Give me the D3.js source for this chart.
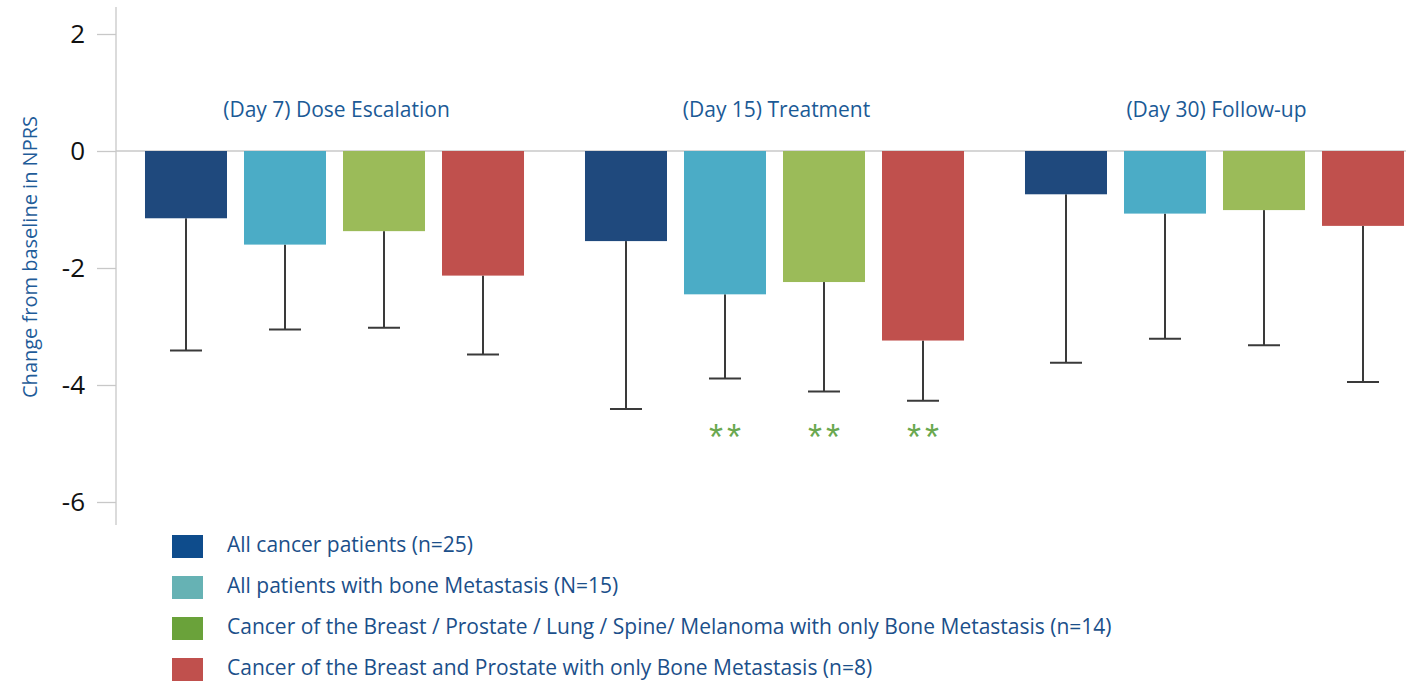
<!DOCTYPE html>
<html>
<head>
<meta charset="utf-8">
<script src="https://cdn.jsdelivr.net/npm/d3@7"></script>
<style>
  html, body { margin: 0; padding: 0; background: #fff; overflow: hidden; }
  svg { display: block; }
</style>
</head>
<body>
<svg id="chart" width="1406" height="681"></svg>
<script>
// Study phases (groups) and patient cohorts (series)
const phases = ["(Day 7) Dose Escalation", "(Day 15) Treatment", "(Day 30) Follow-up"];
const cohorts = [
  "All cancer patients (n=25)",
  "All patients with bone Metastasis (N=15)",
  "Cancer of the Breast / Prostate / Lung / Spine/ Melanoma with only Bone Metastasis (n=14)",
  "Cancer of the Breast and Prostate with only Bone Metastasis (n=8)"
];
// Mean change in NPRS per cohort, one value per phase
const allPatients   = [-1.15, -1.54, -0.74];
const boneMets      = [-1.60, -2.45, -1.07];
const mixedBoneOnly = [-1.37, -2.24, -1.01];
const breastProst   = [-2.13, -3.24, -1.28];
// Lower end of the error bars
const allPatientsLow   = [-3.41, -4.41, -3.62];
const boneMetsLow      = [-3.05, -3.89, -3.21];
const mixedBoneOnlyLow = [-3.02, -4.11, -3.32];
const breastProstLow   = [-3.48, -4.27, -3.95];
// Significance markers (phase, cohort index)
const significance = [
  { phase: 1, cohort: 1, text: "**" },
  { phase: 1, cohort: 2, text: "**" },
  { phase: 1, cohort: 3, text: "**" }
];
const yTicks = [2, 0, -2, -4, -6];

const barColors = ["#1F497D", "#4BACC6", "#9BBB59", "#C0504D"];
const legendColors = ["#0E4C8C", "#66B2B4", "#6AA23A", "#C0504D"];
const seriesValues = [allPatients, boneMets, mixedBoneOnly, breastProst];
const seriesLows = [allPatientsLow, boneMetsLow, mixedBoneOnlyLow, breastProstLow];

const font = "'Open Sans', 'Liberation Sans', sans-serif";
const svg = d3.select("#chart");

const y = d3.scaleLinear().domain([-6, 2]).range([502, 34]);
const x0 = d3.scaleBand().domain(d3.range(phases.length)).range([114.5, 1434.5]).paddingInner(0).paddingOuter(0);
const x1 = d3.scaleBand().domain(d3.range(cohorts.length)).range([0, x0.bandwidth()]).paddingInner(0.1717).paddingOuter(0.308);

// Y axis
const axisX = 116;
const yAxis = d3.axisLeft(y).tickValues(yTicks).tickSize(19).tickPadding(12).tickFormat(d => String(d));
const gAxis = svg.append("g").attr("transform", `translate(${axisX},0)`).call(yAxis);
gAxis.select(".domain").remove();
gAxis.selectAll(".tick line").attr("stroke", "#C8C8C8").attr("stroke-width", 1.3);
gAxis.selectAll(".tick text")
  .attr("font-family", font)
  .attr("font-size", 26).attr("fill", "#111");
svg.append("line")
  .attr("x1", axisX).attr("x2", axisX).attr("y1", 7).attr("y2", 525)
  .attr("stroke", "#C8C8C8").attr("stroke-width", 1.3);

// Zero baseline across the plot
svg.append("line")
  .attr("x1", axisX).attr("x2", 1406).attr("y1", y(0)).attr("y2", y(0))
  .attr("stroke", "#C8C8C8").attr("stroke-width", 1.3);

// Y axis title
svg.append("text")
  .attr("transform", `translate(37,257) rotate(-90)`)
  .attr("text-anchor", "middle")
  .attr("font-family", font)
  .attr("font-size", 20).attr("fill", "#1F5C99")
  .text("Change from baseline in NPRS");

// Bars and error bars
const groups = svg.selectAll("g.phase").data(phases).join("g")
  .attr("class", "phase")
  .attr("transform", (d, i) => `translate(${x0(i)},0)`);

groups.each(function(p, pi) {
  const g = d3.select(this);
  cohorts.forEach((c, ci) => {
    const v = seriesValues[ci][pi];
    const low = seriesLows[ci][pi];
    const bx = x1(ci), bw = x1.bandwidth(), cx = bx + bw / 2;
    g.append("line")
      .attr("x1", cx).attr("x2", cx).attr("y1", y(v)).attr("y2", y(low))
      .attr("stroke", "#3A3A3A").attr("stroke-width", 2);
    g.append("line")
      .attr("x1", cx - 16).attr("x2", cx + 16).attr("y1", y(low)).attr("y2", y(low))
      .attr("stroke", "#3A3A3A").attr("stroke-width", 2);
    g.append("rect")
      .attr("x", bx).attr("y", y(0)).attr("width", bw).attr("height", y(v) - y(0))
      .attr("fill", barColors[ci]);
  });
  g.append("text")
    .attr("x", x0.bandwidth() / 2 + 2).attr("y", 117)
    .attr("text-anchor", "middle")
    .attr("font-family", font)
    .attr("font-size", 21).attr("fill", "#1B5A96")
    .text(p);
});

// Significance asterisks
svg.selectAll("text.sig").data(significance).join("text")
  .attr("class", "sig")
  .attr("x", d => x0(d.phase) + x1(d.cohort) + x1.bandwidth() / 2 + 2)
  .attr("y", 450)
  .attr("text-anchor", "middle")
  .attr("font-family", "'Liberation Sans', sans-serif")
  .attr("font-size", 36)
  .attr("letter-spacing", 4)
  .attr("fill", "#6AA84F")
  .text(d => d.text);

// Legend
const legend = svg.selectAll("g.legend").data(cohorts).join("g")
  .attr("class", "legend")
  .attr("transform", (d, i) => `translate(172,${546 + i * 41})`);
legend.append("rect")
  .attr("x", 0).attr("y", -11).attr("width", 31).attr("height", 23)
  .attr("fill", (d, i) => legendColors[i]);
legend.append("text")
  .attr("x", 55).attr("y", 6)
  .attr("font-family", font)
  .attr("font-size", 21).attr("fill", "#1B4F8A")
  .text(d => d);
</script>
</body>
</html>
